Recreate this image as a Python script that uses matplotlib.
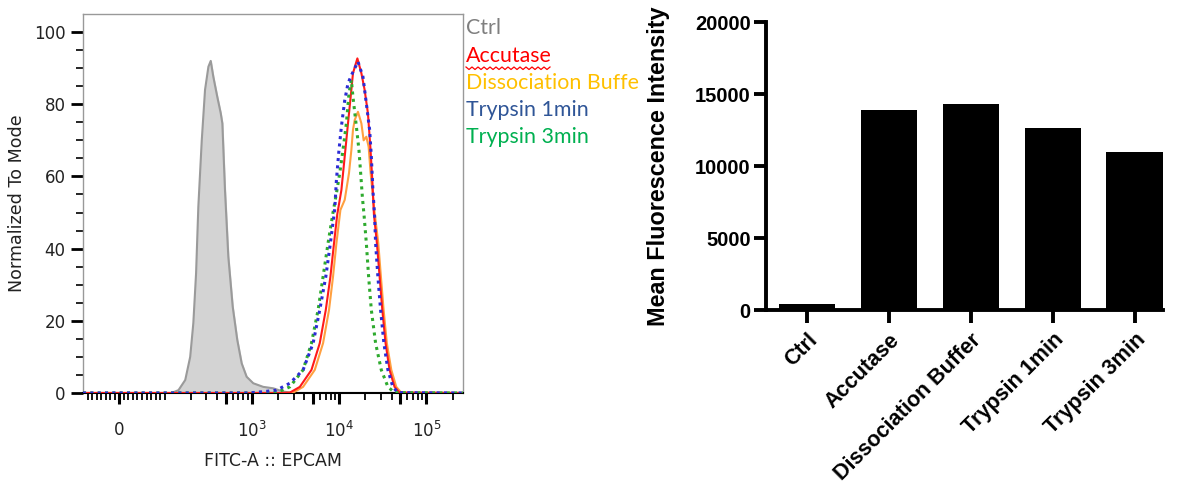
import numpy as np
import matplotlib
matplotlib.use("Agg")
import matplotlib.pyplot as plt
from matplotlib.transforms import Bbox, TransformedBbox

# ---- histogram data (FITC-A intensity, % of mode) ----
ctrl_x = [-80, 120, 144, 172, 196, 213, 229, 243, 266, 290, 317, 337, 361, 401, 439, 458,
          491, 536, 602, 679, 763, 869, 1035, 1346, 1751, 2280, 3000, 262144]
ctrl_y = [0, 0, 0.8, 3.6, 10, 19.4, 33.2, 51.6, 70, 84, 90.4, 92, 87.6, 82, 77.5, 74.7,
          56.2, 37.8, 23.9, 14.7, 8.2, 4.5, 2.7, 1.7, 1.3, 0.4, 0, 0]

acc_x = [-80, 2200, 2718, 3538, 4810, 5984, 7015, 7925, 8720, 9500, 10590, 11560, 12610,
         13780, 14380, 16150, 17950, 19550, 21330, 22740, 23950, 24990, 27040, 29040,
         31190, 33980, 37760, 43060, 49140, 262144]
acc_y = [0, 0, 0.1, 1.7, 6.4, 13.8, 23, 32.2, 41.5, 49.5, 56.2, 65.5, 74.7,
         84, 88.6, 92.7, 88.6, 84, 77.5, 68.2, 59, 49.5, 41.5, 32.2,
         23, 13.8, 6.4, 1.7, 0.1, 0]

dis_x = [-80, 2400, 2965, 3855, 5248, 6531, 7640, 8492, 9290, 10320, 11560, 12940, 13780,
         14380, 15040, 16400, 17950, 19050, 20460, 21730, 22910, 25450, 28050, 30060,
         32270, 35160, 39540, 45080, 51400, 262144]
dis_y = [0, 0, 0.1, 1.7, 6.4, 13.8, 23, 32.2, 41.5, 50.7, 53.5, 60.9, 67.3,
         72.9, 75.6, 77.9, 74.7, 70, 71, 68.2, 60.9, 50, 41.5, 32.2,
         23, 13.8, 6.4, 1.7, 0.1, 0]

t1_x = [-80, 900, 1400, 1914, 2718, 3855, 5023, 5984, 7015, 7925, 8890, 9290, 9870, 10590,
        11560, 12610, 13780, 16400, 18710, 20460, 22320, 23340, 24330, 25450, 26120, 27750,
        29800, 32510, 36140, 41180, 46990, 262144]
t1_y = [0, 0, 0.4, 0.8, 2.7, 6.4, 13.8, 23, 32.2, 41.5, 51, 59, 66.5, 73.8,
        81, 85.8, 88, 91.8, 87.6, 80.2, 72.9, 65.5, 56.2, 49, 41.5, 32.2,
        23, 13.8, 6.4, 1.7, 0.1, 0]

t3_x = [-80, 1000, 1914, 2718, 3855, 4810, 5727, 6531, 7447, 8492, 9290, 10140, 11040,
        12080, 12940, 13780, 14380, 15730, 16840, 17610, 18410, 19300, 20460, 21730,
        23340, 26120, 30350, 36140, 43060, 262144]
t3_y = [0, 0, 0.1, 1.7, 6.4, 13.8, 23, 32.2, 41.5, 50, 55.3, 60.9, 67.3,
        74.7, 83, 86.7, 82, 73.8, 67.3, 60.9, 54.4, 49, 41.5, 32.2,
        23, 13.8, 6.4, 1.7, 0.1, 0]

legend_names = ["Ctrl", "Accutase", "Dissociation Buffer", "Trypsin 1min", "Trypsin 3min"]
legend_colors = ["#7f7f7f", "#ff0000", "#ffc000", "#2f5597", "#00b050"]

# ---- bar chart data ----
groups = ["Ctrl", "Accutase", "Dissociation Buffer", "Trypsin 1min", "Trypsin 3min"]
mfi = [400, 13900, 14300, 12650, 11000]

fig = plt.figure(figsize=(11.95, 4.83), dpi=100)

# ================= left: flow histogram =================
ax = fig.add_axes([83 / 1195, 90 / 483, 380 / 1195, 379 / 483])
ax.set_xscale("symlog", linthresh=100, linscale=0.468)

ax.fill_between(ctrl_x, ctrl_y, color="#d3d3d3", zorder=1)
ax.plot(ctrl_x, ctrl_y, color="#9a9a9a", lw=1.5, zorder=2)
ax.plot(dis_x, dis_y, color="#ffa040", lw=1.5, zorder=3)
ax.plot(acc_x, acc_y, color="#ff1a1a", lw=1.5, zorder=4)
ax.plot(t3_x, t3_y, color="#2eaa2e", lw=2.2, ls=(0, (1, 1.4)), zorder=5)
ax.plot(t1_x, t1_y, color="#2b2bd6", lw=2.2, ls=(0, (1, 1.4)), zorder=6)

ax.set_xlim(-80, 262144)
ax.set_ylim(0, 105)

major = [0, 500, 1000, 5000, 10000, 50000, 100000]
major_lbl = ["0", "", "$10^3$", "", "$10^4$", "", "$10^5$"]
ax.set_xticks(major)
ax.set_xticklabels(major_lbl)
minor = (list(range(-70, 0, 10)) + list(range(10, 100, 10)) + list(range(100, 1000, 100))
         + list(range(2000, 10000, 1000)) + list(range(20000, 100000, 10000)) + [200000])
ax.set_xticks(minor, minor=True)
ax.tick_params(axis="x", which="major", length=8, width=2.2, color="black",
               labelsize=12, pad=12, labelcolor="#222222")
ax.tick_params(axis="x", which="minor", length=5, width=1.3, color="black")

ax.set_yticks([0, 20, 40, 60, 80, 100])
ax.set_yticks(np.arange(5, 105, 5), minor=True)
ax.tick_params(axis="y", which="major", length=9, width=2, color="black",
               labelsize=12, labelcolor="#222222")
ax.tick_params(axis="y", which="minor", length=5, width=1.2, color="black")

for s in ["left", "top", "right"]:
    ax.spines[s].set_color("#999999")
    ax.spines[s].set_linewidth(1)
ax.spines["bottom"].set_color("black")
ax.spines["bottom"].set_linewidth(1.5)

ax.set_xlabel("FITC-A :: EPCAM", fontsize=12.5, color="#222222", labelpad=8)
ax.set_ylabel("Normalized To Mode", fontsize=12.6, color="#222222", labelpad=6)

# legend text to the right of the histogram
leg_y = [28, 56, 83, 110, 137]
clip = TransformedBbox(Bbox([[0, 0], [640 / 1195, 1]]), fig.transFigure)
texts = []
for name, col, y in zip(legend_names, legend_colors, leg_y):
    t = fig.text(466 / 1195, 1 - y / 483, name, color=col, fontsize=15.4,
                 family="Lato", ha="left", va="center")
    t.set_clip_box(clip)
    t.set_clip_on(True)
    texts.append(t)

# red spell-check squiggle under "Accutase"
fig.canvas.draw()
bb = texts[1].get_window_extent()
sx = np.arange(bb.x0, bb.x1, 3.0)
sy = bb.y0 - 1 + np.where(np.arange(len(sx)) % 2 == 0, 0, -2.5)
fig.lines.append(plt.Line2D(sx / 1195, sy / 483, color="#ff0000", lw=0.9,
                            transform=fig.transFigure, figure=fig))

# ================= right: MFI bar chart =================
bx = fig.add_axes([766 / 1195, 173 / 483, 397 / 1195, 287.7 / 483])
pos = np.arange(len(groups))
bx.bar(pos, mfi, width=0.69, color="black")
bx.set_xlim(-0.5, len(groups) - 1 + 0.345)
bx.set_ylim(0, 20000)
bx.set_yticks([0, 5000, 10000, 15000, 20000])
bx.set_xticks(pos)
bx.set_xticklabels(groups, rotation=45, ha="right", rotation_mode="anchor",
                   family="Liberation Sans", fontweight="bold", fontsize=15.5)
for lab in bx.get_yticklabels():
    lab.set_family("Liberation Sans")
    lab.set_fontweight("bold")
    lab.set_fontsize(14.5)
bx.tick_params(axis="both", length=9, width=2.8, color="black")
bx.tick_params(axis="x", pad=5)
bx.tick_params(axis="y", pad=2)
for s in ["top", "right"]:
    bx.spines[s].set_visible(False)
for s in ["left", "bottom"]:
    bx.spines[s].set_linewidth(2.8)
bx.set_ylabel("Mean Fluorescence Intensity", family="Liberation Sans",
              fontweight="bold", fontsize=16.8, labelpad=18)

fig.savefig("out.png", dpi=100)
